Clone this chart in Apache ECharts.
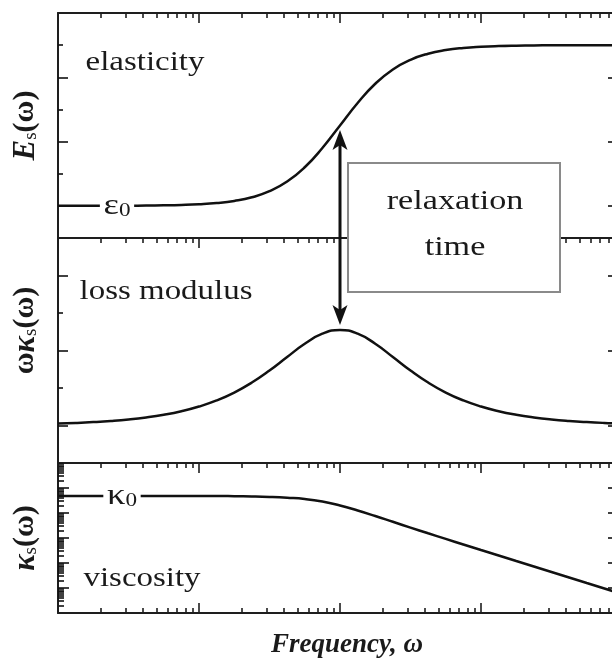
<!DOCTYPE html>
<html><head><meta charset="utf-8">
<script src="https://cdn.jsdelivr.net/npm/echarts@6/dist/echarts.min.js"></script>
<style>html,body{margin:0;padding:0;background:#fff}#c{width:612px;height:662px}</style>
</head><body><div id="c"></div>
<script>
// ---- data ----
const frequency = [0.01, 0.01334, 0.01778, 0.02371, 0.03162, 0.04217, 0.05623, 0.07499,
  0.1, 0.1334, 0.1778, 0.2371, 0.3162, 0.4217, 0.5623, 0.7499,
  1, 1.334, 1.778, 2.371, 3.162, 4.217, 5.623, 7.499,
  10, 13.34, 17.78, 23.71, 31.62, 42.17, 56.23, 74.99, 100];
const elasticity = [1.0005, 1.0009, 1.0016, 1.0028, 1.005, 1.0089, 1.0158, 1.028,
  1.0495, 1.087, 1.153, 1.266, 1.455, 1.755, 2.201, 2.800,
  3.5, 4.200, 4.799, 5.245, 5.545, 5.734, 5.847, 5.913,
  5.950, 5.972, 5.984, 5.991, 5.995, 5.997, 5.998, 5.999, 5.9995];
const lossModulus = [1.051, 1.068, 1.091, 1.121, 1.161, 1.215, 1.286, 1.380,
  1.505, 1.668, 1.879, 2.145, 2.466, 2.826, 3.179, 3.448,
  3.55, 3.448, 3.179, 2.826, 2.466, 2.145, 1.879, 1.668,
  1.505, 1.380, 1.286, 1.215, 1.161, 1.121, 1.091, 1.068, 1.051];
const viscosity = [4.786, 4.786, 4.786, 4.786, 4.786, 4.786, 4.786, 4.786,
  4.786, 4.786, 4.699, 4.571, 4.365, 4.055, 3.631, 2.884,
  1.995, 1.259, 0.759, 0.445, 0.261, 0.154, 0.0920, 0.0550,
  0.0331, 0.0200, 0.0120, 0.00724, 0.00437, 0.00263, 0.00158, 0.000955, 0.000575];

// ---- axis ticks ----
const freqRange = [0.01, 100];
const freqMajorTicks = [0.01, 0.1, 1, 10, 100];
const freqMinorTicks = [0.02,0.03,0.04,0.05,0.06,0.07,0.08,0.09, 0.2,0.3,0.4,0.5,0.6,0.7,0.8,0.9, 2,3,4,5,6,7,8,9, 20,30,40,50,60,70,80,90];
const elasticityRange = [0, 7];
const elasticityMajorTicks = [1, 3, 5];
const elasticityMinorTicks = [2, 4, 6];
const lossRange = [0, 6];
const lossMajorTicks = [1, 3, 5];
const lossMinorTicks = [2, 4];
const viscosityRange = [0.0001, 100];
const viscosityMajorTicks = [0.001, 0.01, 0.1, 1, 10];
const viscosityMinorTicks = [0.0002,0.0003,0.0004,0.0005,0.0006,0.0007,0.0008,0.0009,
  0.002,0.003,0.004,0.005,0.006,0.007,0.008,0.009, 0.02,0.03,0.04,0.05,0.06,0.07,0.08,0.09,
  0.2,0.3,0.4,0.5,0.6,0.7,0.8,0.9, 2,3,4,5,6,7,8,9, 20,30,40,50,60,70,80,90];

// annotation anchors (data units)
const arrowOmega = 1;
const arrowTopElasticity = 3.36;
const arrowBottomLoss = 3.68;

const serif = '"Liberation Serif", "Times New Roman", serif';
const ink = '#1a1a1a';
const axisColor = '#1e1e1e';

function xAx(gridIndex, position, ticks, len, line, extra) {
  return Object.assign({
    type: 'log', logBase: 10, gridIndex, position, min: freqRange[0], max: freqRange[1],
    axisLine: {show: line, onZero: false, lineStyle: {color: axisColor, width: 2}},
    axisTick: {show: true, inside: true, length: len, customValues: ticks, lineStyle: {color: axisColor, width: 1.6}},
    axisLabel: {show: false}, splitLine: {show: false}
  }, extra || {});
}
function yAx(gridIndex, type, range, position, ticks, len, line, extra) {
  return Object.assign({
    type, gridIndex, position, min: range[0], max: range[1],
    axisLine: {show: line, onZero: false, lineStyle: {color: axisColor, width: 2}},
    axisTick: {show: true, inside: true, length: len, customValues: ticks, lineStyle: {color: '#111', width: 1.6}},
    axisLabel: {show: false}, splitLine: {show: false}
  }, type === 'log' ? {logBase: 10} : {}, extra || {});
}
const nameRich = {
  e: {fontFamily: serif, fontWeight: 'bold', fontStyle: 'italic', fontSize: 31, color: ink},
  s: {fontFamily: serif, fontSize: 19, color: ink, verticalAlign: 'bottom', lineHeight: 19},
  p: {fontFamily: serif, fontWeight: 'bold', fontSize: 30, color: ink}
};
function yName(text, pad) {
  return {name: text, nameLocation: 'middle', nameGap: 17, nameRotate: 90,
    nameTextStyle: {rich: nameRich, padding: pad || 0}};
}

const chart = echarts.init(document.getElementById('c'), null, {renderer: 'canvas'});
const lineStyle = {color: '#111', width: 2.5};
const gridBase = {left: 58, width: 564, outerBoundsMode: 'none', containLabel: false};

const option = {
  animation: false,
  backgroundColor: '#fff',
  grid: [
    Object.assign({top: 13, height: 225}, gridBase),
    Object.assign({top: 238, height: 225}, gridBase),
    Object.assign({top: 463, height: 150}, gridBase)
  ],
  xAxis: [
    xAx(0, 'top', freqMajorTicks, 10, true),
    xAx(0, 'top', freqMinorTicks, 5, false),
    xAx(1, 'top', freqMajorTicks, 10, true),
    xAx(1, 'top', freqMinorTicks, 5, false),
    xAx(2, 'top', freqMajorTicks, 10, true),
    xAx(2, 'top', freqMinorTicks, 5, false),
    xAx(2, 'bottom', freqMajorTicks, 10, true, {
      name: 'Frequency, ω', nameLocation: 'middle', nameGap: 19,
      nameTextStyle: {fontFamily: serif, fontWeight: 'bold', fontStyle: 'italic', fontSize: 27, color: ink,
        verticalAlign: 'top', padding: [0, 0, 0, 14]}
    }),
    xAx(2, 'bottom', freqMinorTicks, 5, false)
  ],
  yAxis: [
    yAx(0, 'value', elasticityRange, 'left', elasticityMajorTicks, 10, true, yName('{e|E}{s|s}{p|(ω)}')),
    yAx(0, 'value', elasticityRange, 'left', elasticityMinorTicks, 5, false),
    yAx(0, 'value', elasticityRange, 'right', elasticityMajorTicks, 14, true),
    yAx(1, 'value', lossRange, 'left', lossMajorTicks, 10, true, yName('{p|ω}{e|κ}{s|s}{p|(ω)}', [0, 0, 0, 40])),
    yAx(1, 'value', lossRange, 'left', lossMinorTicks, 5, false),
    yAx(1, 'value', lossRange, 'right', lossMajorTicks, 14, true),
    yAx(2, 'log', viscosityRange, 'left', viscosityMajorTicks, 11, true, yName('{e|κ}{s|s}{p|(ω)}')),
    yAx(2, 'log', viscosityRange, 'left', viscosityMinorTicks, 6, false),
    yAx(2, 'log', viscosityRange, 'right', viscosityMajorTicks, 14, true)
  ],
  series: [
    {type: 'line', name: 'elasticity', xAxisIndex: 0, yAxisIndex: 0, smooth: true, showSymbol: false,
      lineStyle, data: frequency.map((f, i) => [f, elasticity[i]])},
    {type: 'line', name: 'loss modulus', xAxisIndex: 2, yAxisIndex: 3, smooth: true, showSymbol: false,
      lineStyle, data: frequency.map((f, i) => [f, lossModulus[i]])},
    {type: 'line', name: 'viscosity', xAxisIndex: 4, yAxisIndex: 6, smooth: true, showSymbol: false,
      lineStyle, data: frequency.map((f, i) => [f, viscosity[i]])}
  ]
};
chart.setOption(option);

const sx = 1.22;
function label(id, text, x, y, size, extra) {
  return Object.assign({type: 'text', id, z: 120, x, y, scaleX: sx,
    style: {text, fontFamily: serif, fontSize: size, fill: ink, align: 'center', verticalAlign: 'middle'}}, extra || {});
}
function subLabel(id, main, sub, x, y) {
  return {type: 'text', id, z: 120, x, y, scaleX: sx,
    style: {text: '{m|' + main + '}{s|' + sub + '}', align: 'center', verticalAlign: 'middle',
      backgroundColor: '#fff', padding: [0, 3, 0, 3],
      rich: {m: {fontFamily: serif, fontSize: 30, lineHeight: 30, fill: ink},
             s: {fontFamily: serif, fontSize: 19, lineHeight: 19, verticalAlign: 'bottom', fill: ink}}}};
}

const pTop = chart.convertToPixel({seriesIndex: 0}, [arrowOmega, arrowTopElasticity]);
const pBot = chart.convertToPixel({seriesIndex: 1}, [arrowOmega, arrowBottomLoss]);
const ax = pTop[0];
const headLen = 20, headW = 7.5, notch = 5;

chart.setOption({
  graphic: [
    {type: 'rect', id: 'box', z: 110, shape: {x: 348, y: 163, width: 212, height: 129},
      style: {fill: '#fff', stroke: '#8a8a8a', lineWidth: 2}},
    label('relax', 'relaxation', 455, 202, 28),
    label('time', 'time', 455, 248, 28),
    label('el', 'elasticity', 145, 63, 27),
    label('loss', 'loss modulus', 166, 292, 27),
    label('visc', 'viscosity', 142, 579, 27),
    subLabel('eps', 'ε', '0', 117, 206),
    subLabel('kap', 'κ', '0', 122, 496),
    {type: 'line', id: 'arrowLine', z: 115,
      shape: {x1: ax, y1: pTop[1] + headLen - notch, x2: ax, y2: pBot[1] - headLen + notch},
      style: {stroke: '#111', lineWidth: 3}},
    {type: 'polygon', id: 'arrowTop', z: 116,
      shape: {points: [[ax, pTop[1]], [ax - headW, pTop[1] + headLen], [ax, pTop[1] + headLen - notch], [ax + headW, pTop[1] + headLen]]},
      style: {fill: '#111'}},
    {type: 'polygon', id: 'arrowBot', z: 116,
      shape: {points: [[ax, pBot[1]], [ax - headW, pBot[1] - headLen], [ax, pBot[1] - headLen + notch], [ax + headW, pBot[1] - headLen]]},
      style: {fill: '#111'}}
  ]
});
</script>
</body></html>
